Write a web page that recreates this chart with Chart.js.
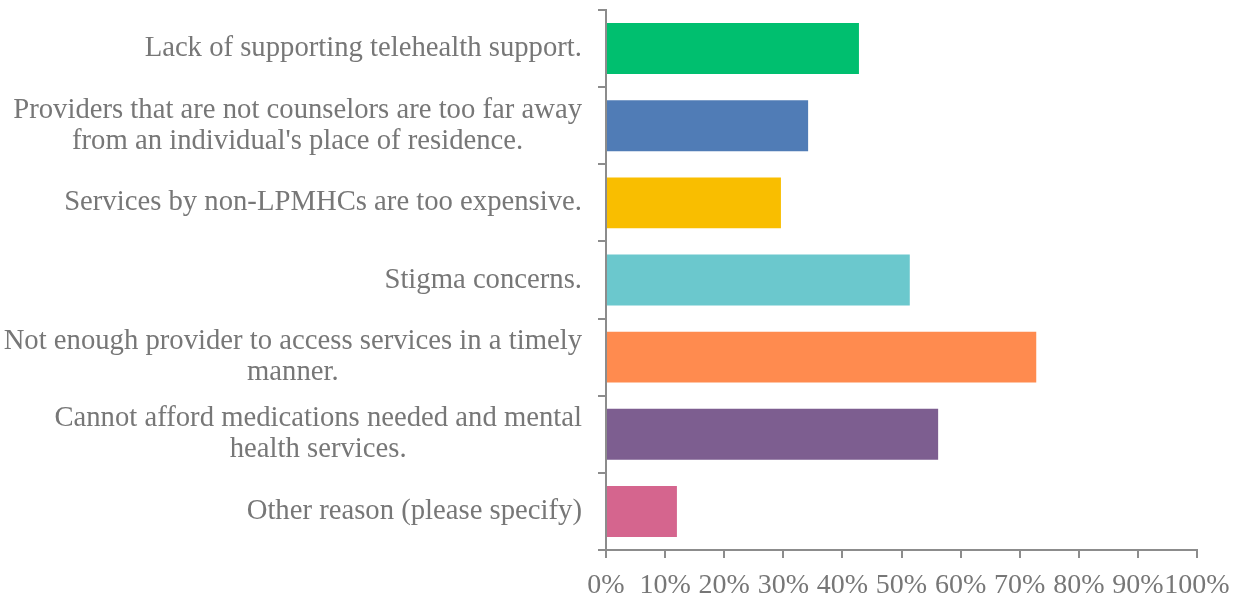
<!DOCTYPE html>
<html>
<head>
<meta charset="utf-8">
<script src="https://cdn.jsdelivr.net/npm/chart.js@4/dist/chart.umd.min.js"></script>
<style>
  html, body { margin: 0; padding: 0; background: #fff; }
  #wrap { width: 1241px; height: 598px; position: relative; }
</style>
</head>
<body>
<div id="wrap"><canvas id="chart" width="1241" height="598"></canvas></div>
<script>
// data
const categories = [
    ['Lack of supporting telehealth support.'],
    ['Providers that are not counselors are too far away', "from an individual's place of residence."],
    ['Services by non-LPMHCs are too expensive.'],
    ['Stigma concerns.'],
    ['Not enough provider to access services in a timely', 'manner.'],
    ['Cannot afford medications needed and mental', 'health services.'],
    ['Other reason (please specify)']
];
const shares = [0.428, 0.342, 0.296, 0.514, 0.728, 0.562, 0.120];
const barColors = ['#00BF6F', '#507CB6', '#F9BE00', '#6BC8CD', '#FF8B4F', '#7D5E90', '#D5658E'];

const FONT = "'Liberation Serif', 'DejaVu Serif', serif";
const TEXT = '#777777';
const AXIS = '#8c8c8c';

// y labels: block right-aligned, lines centred among themselves
const yLabels = {
    id: 'yLabels',
    afterDraw(chart) {
        const ctx = chart.ctx;
        const y = chart.scales.y;
        const rightEdge = 582;
        const lineH = 31;
        ctx.save();
        ctx.font = '28.7px ' + FONT;
        ctx.fillStyle = TEXT;
        ctx.textBaseline = 'middle';
        ctx.textAlign = 'center';
        categories.forEach((lines, i) => {
            const cy = y.getPixelForValue(i);
            const widest = Math.max(...lines.map(l => ctx.measureText(l).width));
            const cx = rightEdge - widest / 2;
            lines.forEach((l, j) => {
                ctx.fillText(l, cx, cy + (j - (lines.length - 1) / 2) * lineH);
            });
        });
        ctx.restore();
    }
};

new Chart(document.getElementById('chart'), {
    type: 'bar',
    data: {
        labels: categories.map(c => c.join(' ')),
        datasets: [{
            data: shares,
            backgroundColor: barColors,
            borderWidth: 0,
            barPercentage: 0.66,
            categoryPercentage: 1
        }]
    },
    options: {
        indexAxis: 'y',
        responsive: false,
        animation: false,
        devicePixelRatio: 1,
        layout: { padding: { top: 10, right: 44, bottom: 0, left: 0 } },
        plugins: {
            legend: { display: false },
            tooltip: { enabled: false }
        },
        scales: {
            y: {
                grid: {
                    offset: true,
                    drawOnChartArea: false,
                    drawTicks: true,
                    tickLength: 8,
                    color: AXIS,
                    lineWidth: 2
                },
                border: { display: true, color: AXIS, width: 2 },
                ticks: { display: false },
                afterFit: s => { s.width = 606; }
            },
            x: {
                min: 0,
                max: 1,
                grid: {
                    drawOnChartArea: false,
                    drawTicks: true,
                    tickLength: 8,
                    color: AXIS,
                    lineWidth: 2
                },
                border: { display: true, color: AXIS, width: 2 },
                ticks: {
                    stepSize: 0.1,
                    autoSkip: false,
                    maxRotation: 0,
                    padding: 11,
                    color: TEXT,
                    font: { family: FONT, size: 28 },
                    callback: v => Math.round(v * 100) + '%'
                },
                afterFit: s => { s.height = 48; }
            }
        }
    },
    plugins: [yLabels]
});
</script>
</body>
</html>
